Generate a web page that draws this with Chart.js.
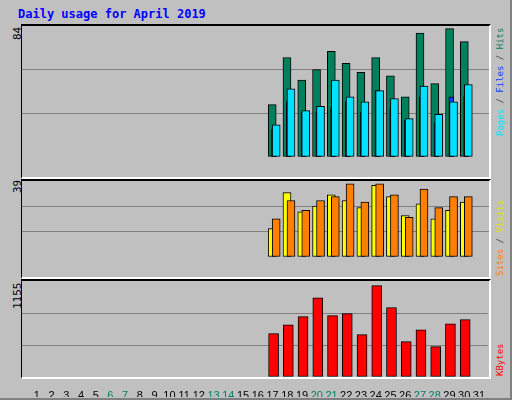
<!DOCTYPE html>
<html>
<head>
<meta charset="utf-8">
<script src="https://cdn.jsdelivr.net/npm/chart.js@4"></script>
<style>
  body { margin:0; background:#fff; }
  #wrap { position:relative; width:510px; height:398px; background:#C0C0C0; border-right:2px solid #808080; border-bottom:2px solid #808080; box-sizing:content-box; outline:1px solid #000; }
  .panel { position:absolute; left:21px; width:470px; border-top:2px solid #000; border-left:1px solid #000; border-right:2px solid #fff; border-bottom:2px solid #fff; box-sizing:border-box; }
  .title { position:absolute; left:18px; top:7px; font:bold 12px "DejaVu Sans Mono", monospace; color:#0000FF; }
  .vl { position:absolute; transform:rotate(-90deg); transform-origin:left top; font:9px "DejaVu Sans Mono", monospace; white-space:nowrap; }
  .num { font:11px "DejaVu Sans Mono", monospace; color:#000; }
  canvas { position:absolute; }
</style>
</head>
<body>
<div id="wrap">
  <div class="title">Daily usage for April 2019</div>
  <div class="panel" style="top:24px;height:155px"></div>
  <div class="panel" style="top:179px;height:100px"></div>
  <div class="panel" style="top:279px;height:100px"></div>
  <div class="vl num" style="left:11px;top:40px">84</div>
  <div class="vl num" style="left:11px;top:193px">39</div>
  <div class="vl num" style="left:11px;top:309px">1155</div>
  <div class="vl" style="left:495px;top:136px"><span style="color:#00E0FF">Pages</span><span style="color:#404040"> / </span><span style="color:#0040FF">Files</span><span style="color:#404040"> / </span><span style="color:#00805C">Hits</span></div>
  <div class="vl" style="left:495px;top:276px"><span style="color:#FF8000">Sites</span><span style="color:#404040"> / </span><span style="color:#E0E000">Visits</span></div>
  <div class="vl" style="left:495px;top:376px"><span style="color:#FF0000">KBytes</span></div>
  <canvas id="c1" style="left:22px;top:26px"></canvas>
  <canvas id="c2" style="left:22px;top:181px"></canvas>
  <canvas id="c3" style="left:22px;top:281px"></canvas>
</div>
<script>
const days = [17,18,19,20,21,22,23,24,25,26,27,28,29,30];
const hits   = [33.6,63.8,49.3,56,67.8,60,54.3,63.8,52,38.6,79.5,47,82.3,74];
const files  = [20.7,43.7,29.7,32.5,49.3,38.6,35.3,42.6,37.5,24.6,45.4,27.4,35.3,46.5];
const pages  = [17.9,35.3,28.6,28.6,31.4,35.3,28.6,42.6,30.8,23.5,38.6,21.8,38.6,39.2];
const sites  = [14.6,33,23.2,26.1,31.9,29,25.3,36.8,31,21.2,27.3,19.6,24,28.2];
const visits = [19.6,29,24,29,31,37.6,28.2,37.6,31.9,20.4,34.8,25.3,31,31];
const kbytes = [521,629,726,954,738,762,509,1099,834,425,569,365,641,690];
const maxHits = 84, maxVisits = 39, maxKB = 1155;
const weekend = [6,7,13,14,20,21,27,28];

function pts(arr, off) { return arr.map((v, i) => ({x: days[i] + off, y: v})); }
function ds(arr, off, color, w, order) {
  return { data: pts(arr, off), backgroundColor: color, borderColor: '#000', borderWidth: 1,
           barThickness: w, order: order, borderSkipped: false, grouped: false };
}

function make(id, w, h, datasets, max, showX) {
  const cv = document.getElementById(id);
  cv.width = w; cv.height = h; cv.style.width = w + 'px'; cv.style.height = h + 'px';
  return new Chart(cv, {
    type: 'bar',
    data: { datasets: datasets },
    options: {
      responsive: false, animation: false,
      layout: { padding: 0 },
      plugins: { legend: { display: false }, tooltip: { enabled: false } },
      scales: {
        x: {
          type: 'linear', min: 0, max: 31.6, offset: false, display: showX,
          grid: { display: false }, border: { display: false },
          afterFit: s => { s.height = 20; },
          afterBuildTicks: s => { s.ticks = Array.from({length: 31}, (_, i) => ({value: i + 1})); },
          ticks: {
            autoSkip: false, maxRotation: 0, minRotation: 0, padding: 4,
            font: { family: 'Liberation Sans', size: 11 },
            color: c => weekend.includes(c.tick.value) ? '#008060' : '#000',
            callback: v => String(v)
          }
        },
        y: {
          min: 0, max: max, afterFit: s => { s.width = 0; },
          ticks: { display: false, stepSize: max / 3 },
          grid: { color: c => (c.tick.value > 0 && c.tick.value < max - 1e-6) ? '#808080' : 'rgba(0,0,0,0)', drawTicks: false, lineWidth: 1 },
          border: { display: false }
        }
      }
    }
  });
}

make('c1', 467, 151, [
  ds(hits, -0.07, '#00805C', 8, 3),
  ds(pages, 0.05, '#0040FF', 5, 2),
  ds(files, 0.2, '#00E0FF', 8, 1)
], maxHits, false);
make('c2', 467, 96, [
  ds(sites, -0.07, '#FFFF00', 8, 2),
  ds(visits, 0.2, '#FF8000', 8, 1)
], maxVisits, false);
make('c3', 467, 116, [
  ds(kbytes, 0.07, '#FF0000', 10, 1)
], maxKB, true);
</script>
</body>
</html>
